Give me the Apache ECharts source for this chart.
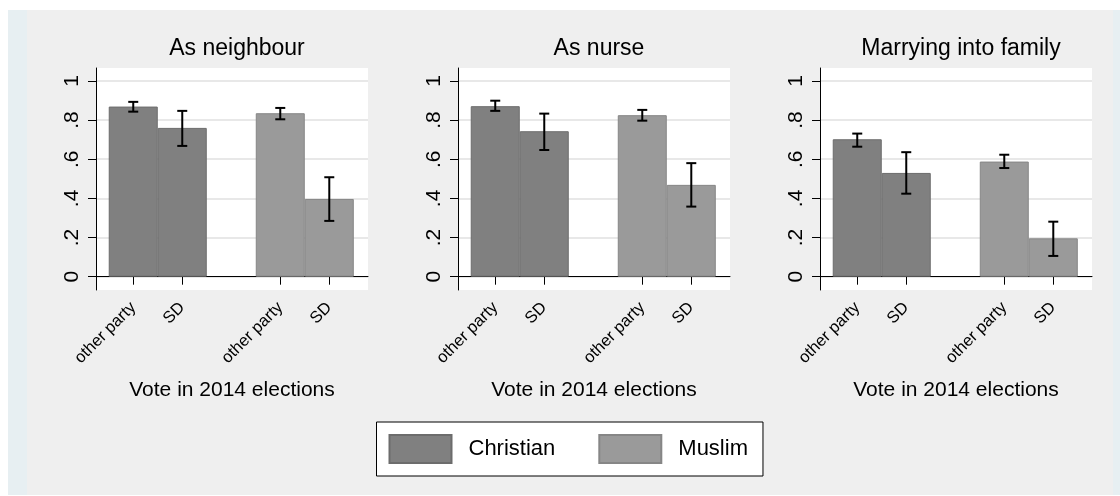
<!DOCTYPE html>
<html>
<head>
<meta charset="utf-8">
<script src="https://cdn.jsdelivr.net/npm/echarts@6/dist/echarts.min.js"></script>
<style>
  html, body { margin: 0; padding: 0; background: #fff; }
  #chart { width: 1120px; height: 496px; }
</style>
</head>
<body>
<div id="chart"></div>
<script>
// Share accepting a person, by religion of that person and by party voted for
const panelTitles = ['As neighbour', 'As nurse', 'Marrying into family'];
const parties = ['other party', 'SD'];
const groups = ['Christian', 'Muslim'];
const yTicks = [0, 0.2, 0.4, 0.6, 0.8, 1];
const axisTitle = 'Vote in 2014 elections';

// Mean per panel: [other party, SD]
const christianMean = [[0.869, 0.760], [0.871, 0.743], [0.702, 0.530]];
const muslimMean    = [[0.835, 0.397], [0.825, 0.469], [0.588, 0.196]];
// 95% confidence bounds per panel: [other party, SD]
const christianLow  = [[0.843, 0.668], [0.847, 0.647], [0.664, 0.424]];
const christianHigh = [[0.893, 0.847], [0.899, 0.833], [0.731, 0.636]];
const muslimLow     = [[0.804, 0.285], [0.797, 0.358], [0.555, 0.106]];
const muslimHigh    = [[0.862, 0.508], [0.852, 0.580], [0.623, 0.281]];

const FONT = '"Liberation Sans", Arial, sans-serif';
const colors = {
  Christian: { fill: '#808080', border: '#6c6c6c' },
  Muslim:    { fill: '#9a9a9a', border: '#868686' }
};

const gridLefts = [96, 458, 820];
const gridWidth = 272, gridTop = 68, gridHeight = 222;
const xMin = 0.24, xMax = 5.79;
const barWidth = gridWidth / (xMax - xMin);

// slot on the x axis: groups separated by one empty slot
function slot(g, p) { return g * (parties.length + 1) + p + 1; }
const slotValues = [];
const slotLabel = {};
groups.forEach((g, gi) => parties.forEach((p, pi) => {
  slotValues.push(slot(gi, pi));
  slotLabel[slot(gi, pi)] = p;
}));

const means = { Christian: christianMean, Muslim: muslimMean };
const lows = { Christian: christianLow, Muslim: muslimLow };
const highs = { Christian: christianHigh, Muslim: muslimHigh };

function fmtTick(v) {
  if (v === 0) return '0';
  if (Math.abs(v - 1) < 1e-9) return '1';
  return String(Math.round(v * 10) / 10).replace(/^0/, '');
}

function renderCI(params, api) {
  const x = api.value(0);
  const lo = api.coord([x, api.value(1)]);
  const hi = api.coord([x, api.value(2)]);
  const cap = 5;
  const st = { stroke: '#000', lineWidth: 2 };
  return {
    type: 'group',
    children: [
      { type: 'line', shape: { x1: lo[0], y1: lo[1], x2: hi[0], y2: hi[1] }, style: st },
      { type: 'line', shape: { x1: lo[0] - cap, y1: lo[1], x2: lo[0] + cap, y2: lo[1] }, style: st },
      { type: 'line', shape: { x1: hi[0] - cap, y1: hi[1], x2: hi[0] + cap, y2: hi[1] }, style: st }
    ]
  };
}

const grid = [], xAxis = [], yAxis = [], series = [], title = [];
panelTitles.forEach((t, k) => {
  grid.push({
    left: gridLefts[k], top: gridTop, width: gridWidth, height: gridHeight,
    show: true, backgroundColor: '#fff', borderWidth: 0
  });
  title.push({
    text: t, left: gridLefts[k] + gridWidth / 2, top: 32, textAlign: 'center',
    textStyle: { fontFamily: FONT, fontSize: 23, fontWeight: 'normal', color: '#000' }
  });
  xAxis.push({
    type: 'value', gridIndex: k, min: xMin, max: xMax,
    name: axisTitle, nameLocation: 'middle', nameGap: 90,
    nameTextStyle: { fontFamily: FONT, fontSize: 21, color: '#000' },
    axisLine: { show: true, lineStyle: { color: '#000', width: 1 } },
    axisTick: { show: true, length: 8, customValues: slotValues, lineStyle: { color: '#000' } },
    axisLabel: {
      customValues: slotValues, rotate: 45, margin: 15,
      formatter: v => slotLabel[v] || '',
      fontFamily: FONT, fontSize: 16.5, color: '#000'
    },
    splitLine: { show: false }
  });
  yAxis.push({
    type: 'value', gridIndex: k, min: -0.068, max: 1.066,
    axisLine: { show: true, lineStyle: { color: '#000', width: 1 } },
    axisTick: { show: true, length: 8, customValues: yTicks, lineStyle: { color: '#000' } },
    axisLabel: {
      customValues: yTicks, rotate: 90, margin: 13,
      formatter: fmtTick, fontFamily: FONT, fontSize: 21, color: '#000'
    },
    splitLine: { show: true, lineStyle: { color: '#e8e8e8', width: 2 } }
  });
  groups.forEach((g, gi) => {
    series.push({
      name: g, type: 'bar', xAxisIndex: k, yAxisIndex: k,
      barWidth: barWidth, barGap: '-100%',
      itemStyle: { color: colors[g].fill, borderColor: colors[g].border, borderWidth: 1 },
      emphasis: { disabled: true },
      data: parties.map((p, pi) => [slot(gi, pi), means[g][k][pi]]),
      z: 2
    });
    series.push({
      name: g + ' CI', type: 'custom', xAxisIndex: k, yAxisIndex: k,
      renderItem: renderCI, encode: { x: 0, y: [1, 2] },
      data: parties.map((p, pi) => [slot(gi, pi), lows[g][k][pi], highs[g][k][pi]]),
      z: 5, silent: true
    });
  });
});

const chart = echarts.init(document.getElementById('chart'), null, { renderer: 'canvas' });
chart.setOption({
  animation: false,
  backgroundColor: '#fff',
  graphic: [
    { type: 'rect', z: -10, shape: { x: 8, y: 10, width: 1112, height: 485 }, style: { fill: '#e7eff2' }, silent: true },
    { type: 'rect', z: -9, shape: { x: 27, y: 10, width: 1086, height: 485 }, style: { fill: '#efefef' }, silent: true }
  ],
  title: title,
  legend: {
    data: groups, left: 376.5, top: 422, orient: 'horizontal',
    backgroundColor: '#fff', borderColor: '#000', borderWidth: 1, borderRadius: 0,
    padding: [12, 15, 12, 12], itemWidth: 62, itemHeight: 28, itemGap: 43,
    icon: 'rect',
    textStyle: { fontFamily: FONT, fontSize: 22, color: '#000', padding: [0, 0, 0, 12] },
    selectedMode: false
  },
  grid: grid, xAxis: xAxis, yAxis: yAxis, series: series
});
</script>
</body>
</html>
